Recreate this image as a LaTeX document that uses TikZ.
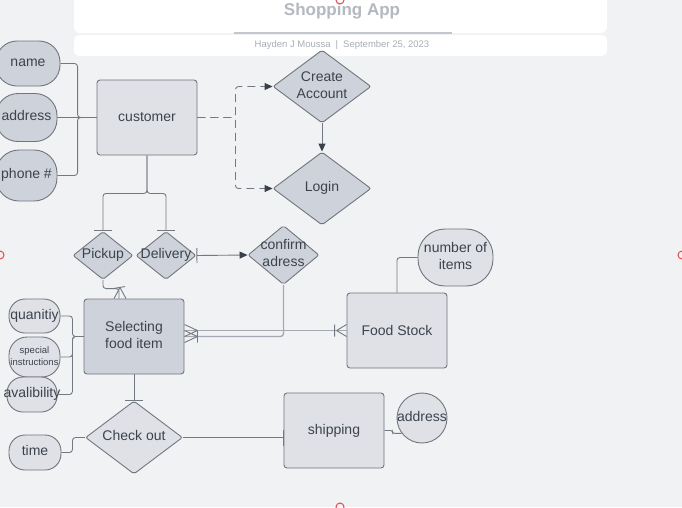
\documentclass[tikz,border=0pt]{standalone}
\usepackage{fontspec}
\setmainfont{Liberation Sans}
\usetikzlibrary{shapes.geometric,arrows.meta,calc}
\definecolor{bgc}{HTML}{F1F2F4}
\definecolor{fdark}{HTML}{CED3DB}
\definecolor{flight}{HTML}{DFE1E6}
\definecolor{strk}{HTML}{70757E}
\definecolor{txtc}{HTML}{3C434D}
\definecolor{conn}{HTML}{737982}
\definecolor{connl}{HTML}{A5AAB2}
\definecolor{tipc}{HTML}{3A4049}
\definecolor{ttl}{HTML}{B4B8C0}
\definecolor{auth}{HTML}{A8ADB5}
\definecolor{rulec}{HTML}{C3C6CC}
\definecolor{hdl}{HTML}{E5484D}
\newcommand{\mklbl}[1]{\makebox[0pt]{\begin{tabular}{@{}c@{}}#1\end{tabular}}}
\begin{document}
\begin{tikzpicture}[x=1pt,y=-1pt,
  base/.style={draw=strk, line width=0.9pt, text=txtc, font=\fontsize{14}{17}\selectfont, inner sep=0pt},
  ent/.style={base, rectangle, rounded corners=3pt, minimum width=100pt, minimum height=75pt},
  rel/.style={base, diamond, rounded corners=2pt},
  attr/.style={base, rectangle},
  cn/.style={draw=conn, line width=0.9pt, rounded corners=3pt},
  cnl/.style={draw=connl, line width=1.4pt, rounded corners=3pt},
  dsh/.style={cn, dash pattern=on 8pt off 5pt},
  tip/.style={-{Triangle[length=8pt,width=7pt,fill=tipc,color=tipc]}},
  onebar/.style={-{Bar[width=#1]}}
]
\useasboundingbox (0,0) rectangle (682,507);
\clip (0,0) rectangle (682,507);
\fill[bgc] (0,0) rectangle (682,507);

% title panel
\fill[white, rounded corners=6pt] (74,-10) rectangle (607,33);
\fill[white, rounded corners=5pt] (74,35) rectangle (607,56);
\draw[rulec, line width=2pt] (234,32.5) -- (452,32.5);
\node[font=\bfseries\fontsize{17}{20}\selectfont, text=ttl, anchor=base, inner sep=0pt] (title) at (342,15) {Shopping App};
\node[font=\fontsize{9.5}{11}\selectfont, text=auth, anchor=base, inner sep=0pt] (author) at (342,47.3) {Hayden J Moussa\hspace{5pt}|\hspace{5pt}September 25, 2023};

% entities / relationships / attributes
\node[attr, fill=fdark, minimum width=64pt, minimum height=45pt, rounded corners=21pt] (name) at (28,63.5) {\mklbl{name}};
\node[attr, fill=fdark, minimum width=61pt, minimum height=48pt, rounded corners=22pt] (addr) at (26.5,117.5) {\mklbl{address}};
\node[attr, fill=fdark, minimum width=61pt, minimum height=51pt, rounded corners=23pt] (phone) at (26.5,175.5) {\mklbl{phone \#}};
\node[ent, fill=flight] (cust) at (147,117.5) {customer};
\node[rel, fill=fdark, minimum width=98pt, minimum height=73pt] (ca) at (322,86.5) {\mklbl{Create\\Account}};
\node[rel, fill=fdark, minimum width=98pt, minimum height=73pt] (login) at (322,188.5) {\mklbl{Login}};
\node[rel, fill=fdark, minimum width=60pt, minimum height=48pt] (pick) at (103,255.5) {\mklbl{Pickup}};
\node[rel, fill=fdark, minimum width=60pt, minimum height=48pt] (del) at (166,255.5) {\mklbl{Delivery}};
\node[rel, fill=fdark, minimum width=71pt, minimum height=59pt] (conf) at (283.5,255) {\mklbl{confirm\\adress}};
\node[ent, fill=fdark] (sel) at (134,336.5) {\mklbl{Selecting\\food item}};
\node[attr, fill=flight, minimum width=51pt, minimum height=34pt, rounded corners=16pt] (quan) at (34.5,316) {\mklbl{quanitiy}};
\node[attr, fill=flight, minimum width=51pt, minimum height=40pt, rounded corners=18pt, font=\fontsize{9.5}{12}\selectfont] (spec) at (34.5,357) {\mklbl{special\\instructions}};
\node[attr, fill=flight, minimum width=50pt, minimum height=35pt, rounded corners=16pt] (aval) at (32,394.5) {\mklbl{avalibility}};
\node[rel, fill=flight, minimum width=97pt, minimum height=73pt] (co) at (134,437.5) {\mklbl{Check out}};
\node[attr, fill=flight, minimum width=52pt, minimum height=35pt, rounded corners=16pt] (time) at (35,452.5) {\mklbl{time}};
\node[ent, fill=flight] (ship) at (334,430.5) {shipping};
\node[base, circle, fill=flight, minimum size=50pt] (addc) at (422,418) {\mklbl{address}};
\node[ent, fill=flight] (fs) at (397,330.5) {Food Stock};
\node[attr, fill=flight, minimum width=75pt, minimum height=57pt, rounded corners=27pt] (noi) at (455.5,257.5) {\mklbl{number of\\items}};

% connectors
\draw[cn] (name.east) -| ($(cust.west)+(-19,0)$) -- (cust.west);
\draw[cn] (addr.east) -- (cust.west);
\draw[cn] (phone.east) -| ($(cust.west)+(-19,0)$) -- (cust.west);

\draw[dsh, tip] (cust.east) -- ++(38,0) |- (ca.west);
\draw[dsh, tip] (cust.east) -- ++(38,0) |- (login.west);
\draw[cn, tip] (ca.south) -- (login.north);

\draw[cn, onebar=18pt] (cust.south) -- ++(0,38) -| (pick.north);
\draw[cn, onebar=18pt] (cust.south) -- ++(0,38) -| (del.north);
\draw[cn, {Bar[width=15pt]}-{Triangle[length=8pt,width=7pt,fill=tipc,color=tipc]}] (del.east) -- (conf.west);

\draw[cn] (pick.south) |- ($(sel.north)+(-15,-10)$) -- ($(sel.north)+(-15,0)$);
\draw[cn, rounded corners=0pt] ($(sel.north)+(-14,-11)$) -- ($(sel.north)+(-20,0)$)
      ($(sel.north)+(-14,-11)$) -- ($(sel.north)+(-8,0)$)
      ($(sel.north)+(-21,-10)$) -- ($(sel.north)+(-9,-12)$);

\draw[cnl] (fs.west) -- (fs.west -| sel.east);
\draw[cnl] (conf.south) |- (sel.east);
\draw[cn, rounded corners=0pt]
      ($(sel.east)+(13,-6)$) -- ($(sel.east)+(0,-12)$)
      ($(sel.east)+(13,-6)$) -- ($(sel.east)+(0,0)$)
      ($(sel.east)+(13,0)$) -- ($(sel.east)+(0,-6)$)
      ($(sel.east)+(13,0)$) -- ($(sel.east)+(0,6)$)
      ($(sel.east)+(13,-6)$) -- ($(sel.east)+(13,6)$);
\draw[cn, rounded corners=0pt]
      ($(fs.west)+(-12,-6)$) -- ($(fs.west)+(-12,6)$)
      ($(fs.west)+(-10,0)$) -- ($(fs.west)+(0,-6)$)
      ($(fs.west)+(-10,0)$) -- ($(fs.west)+(0,6)$);

\draw[cn] (quan.east) -- ++(12,0) |- (sel.west);
\draw[cn] (spec.east) -- ++(12,0) |- (sel.west);
\draw[cn] (aval.east) -- ++(15,0) |- (sel.west);

\draw[cn, onebar=18pt] (sel.south) -- (co.north);
\draw[cn] (time.east) -- ++(11,0) |- (co.west);
\draw[cn, onebar=16pt] (co.east) -- (co.east -| ship.west);
\draw[cn, rounded corners=2pt] (ship.east) -- ++(8,0) |- (addc.217);
\draw[cn] (fs.north) |- (noi.west);

% selection handles
\draw[hdl, line width=1pt] (340,0) circle (4);
\draw[hdl, line width=1pt] (0,255) circle (4);
\draw[hdl, line width=1pt] (682,255) circle (4);
\draw[hdl, line width=1pt] (340,507) circle (4);
\end{tikzpicture}
\end{document}
